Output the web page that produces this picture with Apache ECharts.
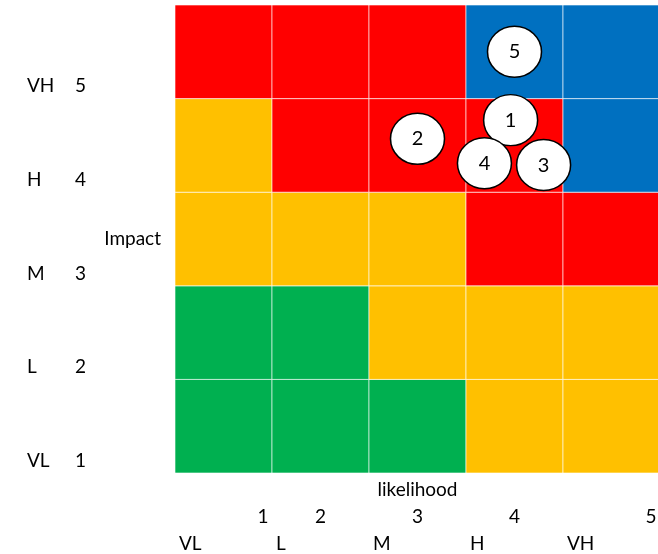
<!DOCTYPE html>
<html>
<head>
<meta charset="utf-8">
<script src="https://cdn.jsdelivr.net/npm/echarts@6/dist/echarts.min.js"></script>
<style>
  html, body { margin: 0; padding: 0; background: #ffffff; }
  #chart { width: 658px; height: 554px; }
</style>
</head>
<body>
<div id="chart"></div>
<script>
// Likelihood (columns) and impact (rows) scales
const likelihoodScores = ['1', '2', '3', '4', '5'];
const likelihoodLevels = ['VL', 'L', 'M', 'H', 'VH'];
const impactScores = ['1', '2', '3', '4', '5'];
const impactLevels = ['VL', 'L', 'M', 'H', 'VH'];

// Rating of every cell, one row per impact score from 1 (bottom) to 5 (top)
const ratingRows = [
  ['low', 'low', 'low', 'medium', 'medium'],
  ['low', 'low', 'medium', 'medium', 'medium'],
  ['medium', 'medium', 'medium', 'high', 'high'],
  ['medium', 'high', 'high', 'high', 'extreme'],
  ['high', 'high', 'high', 'extreme', 'extreme']
];

// Assessed risks
const riskIds = ['1', '2', '3', '4', '5'];
const riskLikelihood = [3.96, 3.00, 4.30, 3.69, 4.00];
const riskImpact = [4.27, 4.07, 3.79, 3.81, 5.00];

const ratingColors = {
  low: '#00B050',
  medium: '#FFC000',
  high: '#FF0000',
  extreme: '#0070C0'
};

const FONT = 'Lato';
const FS = 19;

const cells = [];
ratingRows.forEach((row, yi) => {
  row.forEach((rating, xi) => cells.push([xi, yi, rating]));
});

const risks = riskIds.map((id, i) => [riskLikelihood[i], riskImpact[i], id]);

const chart = echarts.init(document.getElementById('chart'), null, { renderer: 'canvas' });

chart.setOption({
  animation: false,
  backgroundColor: '#ffffff',
  grid: { left: 175, right: -2, top: 5, bottom: 81, containLabel: false, outerBoundsMode: 'none' },
  xAxis: [
    {
      // score row under the matrix
      type: 'category',
      position: 'bottom',
      data: likelihoodScores,
      boundaryGap: true,
      axisLine: { show: false },
      axisTick: { show: false },
      splitLine: { show: false },
      name: 'likelihood',
      nameLocation: 'middle',
      nameGap: 7,
      nameMoveOverlap: false,
      nameTextStyle: { fontFamily: FONT, fontSize: FS, color: '#000', verticalAlign: 'top' },
      axisLabel: {
        interval: 0,
        margin: 34,
        fontFamily: FONT,
        fontSize: FS,
        color: '#000',
        formatter: (v, i) => (i === 0 || i === likelihoodScores.length - 1) ? `{s|${v}}` : `{c|${v}}`,
        rich: {
          c: { fontFamily: FONT, fontSize: FS, color: '#000' },
          s: { fontFamily: FONT, fontSize: FS, color: '#000', padding: [0, 0, 0, 79] }
        }
      }
    },
    {
      // level row, each name set at the left edge of its column
      type: 'category',
      position: 'bottom',
      data: likelihoodLevels.concat(['']),
      boundaryGap: false,
      axisLine: { show: false },
      axisTick: { show: false },
      splitLine: { show: false },
      axisLabel: {
        interval: 0,
        margin: 61,
        align: 'left',
        padding: [0, 0, 0, 4],
        fontFamily: FONT,
        fontSize: FS,
        color: '#000'
      }
    },
    { type: 'value', position: 'bottom', min: 0.5, max: 5.5, show: false }
  ],
  yAxis: [
    {
      type: 'category',
      position: 'left',
      data: impactScores,
      boundaryGap: true,
      axisLine: { show: false },
      axisTick: { show: false },
      splitLine: { show: false },
      name: 'Impact',
      nameLocation: 'middle',
      nameRotate: 0,
      nameGap: 14,
      nameMoveOverlap: false,
      nameTextStyle: { fontFamily: FONT, fontSize: FS, color: '#000', align: 'right', verticalAlign: 'middle' },
      axisLabel: {
        interval: 0,
        margin: 148,
        align: 'left',
        verticalAlign: 'top',
        padding: [25, 0, 0, 0],
        formatter: (v, i) => `{a|${impactLevels[i]}}{n|${v}}`,
        rich: {
          a: { fontFamily: FONT, fontSize: FS, color: '#000', width: 48 },
          n: { fontFamily: FONT, fontSize: FS, color: '#000' }
        }
      }
    },
    { type: 'value', position: 'left', min: 0.5, max: 5.5, show: false }
  ],
  series: [
    {
      type: 'custom',
      xAxisIndex: 0,
      yAxisIndex: 0,
      data: cells,
      renderItem: (params, api) => {
        const c = api.coord([api.value(0), api.value(1)]);
        const s = api.size([1, 1]);
        const rating = cells[params.dataIndex][2];
        return {
          type: 'rect',
          shape: { x: c[0] - s[0] / 2, y: c[1] - s[1] / 2, width: s[0], height: s[1] },
          style: { fill: ratingColors[rating], stroke: 'rgba(255,255,255,0.6)', lineWidth: 1 }
        };
      }
    },
    {
      type: 'scatter',
      xAxisIndex: 2,
      yAxisIndex: 1,
      data: risks,
      symbol: 'circle',
      symbolSize: [54, 51],
      itemStyle: { color: '#ffffff', borderColor: '#000000', borderWidth: 1.5, opacity: 1 },
      label: {
        show: true,
        position: 'inside',
        formatter: p => p.value[2],
        fontFamily: FONT,
        fontSize: 20,
        color: '#000'
      },
      z: 5
    }
  ]
});
</script>
</body>
</html>
